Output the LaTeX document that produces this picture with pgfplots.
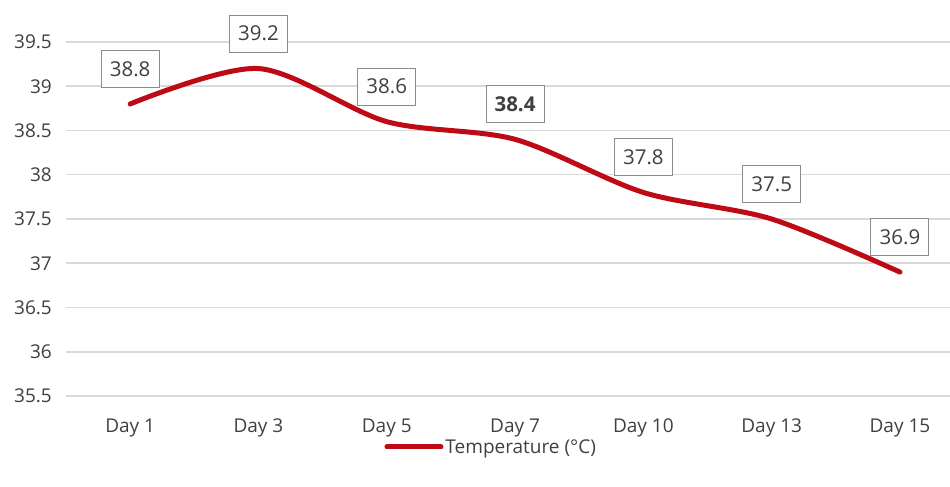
\documentclass[border=0pt]{standalone}
\usepackage{pgfplots}
\pgfplotsset{compat=1.18}
\usepackage{fontspec}
\setmainfont{Open Sans}
\definecolor{linered}{RGB}{190,10,20}
\definecolor{gridgray}{RGB}{217,217,217}
\definecolor{txt}{RGB}{64,64,64}
\definecolor{boxgray}{RGB}{140,140,140}
\begin{document}
\begin{tikzpicture}
\begin{axis}[
  scale only axis,
  width=884pt, height=354pt,
  xmin=-0.5, xmax=6.39,
  ymin=35.5, ymax=39.5,
  ytick={35.5,36,36.5,37,37.5,38,38.5,39,39.5},
  xtick={0,1,2,3,4,5,6},
  xticklabels={Day 1,Day 3,Day 5,Day 7,Day 10,Day 13,Day 15},
  axis line style={draw=none},
  tick style={draw=none},
  ymajorgrids,
  grid style={gridgray, line width=1.5pt},
  /pgf/number format/assume math mode=true,
  yticklabel={\pgfmathprintnumber[fixed,precision=1]{\tick}},
  ticklabel style={font=\fontsize{19}{21}\selectfont, text=txt},
  xticklabel style={anchor=base, yshift=-36pt},
  yticklabel style={anchor=east, inner sep=0pt, xshift=-14pt},
  clip=false,
  legend style={at={(0.481,-0.144)}, anchor=center, draw=none, fill=none,
    font=\fontsize{19}{21}\selectfont, text=txt,
    legend cell align=left},
  legend image code/.code={\draw[linered, line width=5pt] (0pt,0pt) -- (54pt,0pt);},
  nodes near coords,
  point meta=explicit symbolic,
  every node near coord/.append style={
    draw=boxgray, fill=white, line width=1pt,
    minimum width=58pt, minimum height=37pt, inner sep=0pt,
    anchor=south, yshift=16pt, text=txt,
    font=\fontsize{20.5}{22}\selectfont},
]
\addplot[linered, line width=5pt, smooth, line cap=round] coordinates {
  (0,38.8) [38.8]
  (1,39.2) [39.2]
  (2,38.6) [38.6]
  (3,38.4) [\bfseries 38.4]
  (4,37.8) [37.8]
  (5,37.5) [37.5]
  (6,36.9) [36.9]
};
\addlegendentry{Temperature (°C)}
\coordinate (O) at (rel axis cs:0,0);
\end{axis}
\pgfresetboundingbox
\path (O) ++(-66pt,-91pt) rectangle ++(950pt,487pt);
\end{tikzpicture}
\end{document}
